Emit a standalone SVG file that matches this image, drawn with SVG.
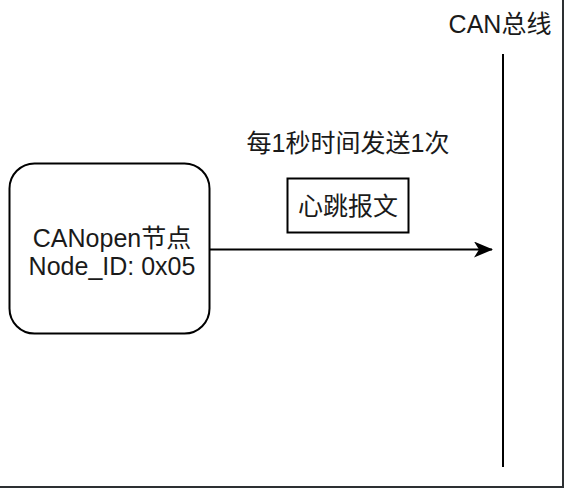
<svg xmlns="http://www.w3.org/2000/svg" width="564" height="488" viewBox="0 0 564 488">
<defs>
<style>
text{font-family:"Liberation Sans","Noto Sans CJK SC",sans-serif;font-size:25px;fill:#1a1a1a;text-anchor:middle}
.shape{fill:#fff;stroke:#000;stroke-width:2}
.line{stroke:#000;stroke-width:2;fill:none}
</style>
<marker id="arrow" markerWidth="20" markerHeight="18" refX="18" refY="8" orient="auto" markerUnits="userSpaceOnUse">
<path d="M0,0 L19,8 L0,16 L5,8 Z" fill="#000"/>
</marker>
</defs>
<rect x="0" y="0" width="564" height="488" fill="#fff"/>
<line x1="563" y1="0" x2="563" y2="488" stroke="#2d3033" stroke-width="2"/>
<line x1="0" y1="487" x2="564" y2="487" stroke="#2d3033" stroke-width="2"/>
<g id="connectors">
<line class="line" x1="210" y1="249.5" x2="492" y2="249.5" marker-end="url(#arrow)"/>
</g>
<g id="bus">
<line class="line" x1="503" y1="54" x2="503" y2="467"/>
<text x="500" y="33">CAN总线</text>
</g>
<g id="node">
<rect class="shape" x="9.5" y="163.5" width="200" height="170" rx="25" ry="25"/>
<text x="112" y="247">CANopen节点</text>
<text x="112" y="275">Node_ID: 0x05</text>
</g>
<g id="label">
<text x="348" y="152">每1秒时间发送1次</text>
</g>
<g id="message">
<rect class="shape" x="287.5" y="178.5" width="121" height="54"/>
<text x="348" y="215">心跳报文</text>
</g>
</svg>
